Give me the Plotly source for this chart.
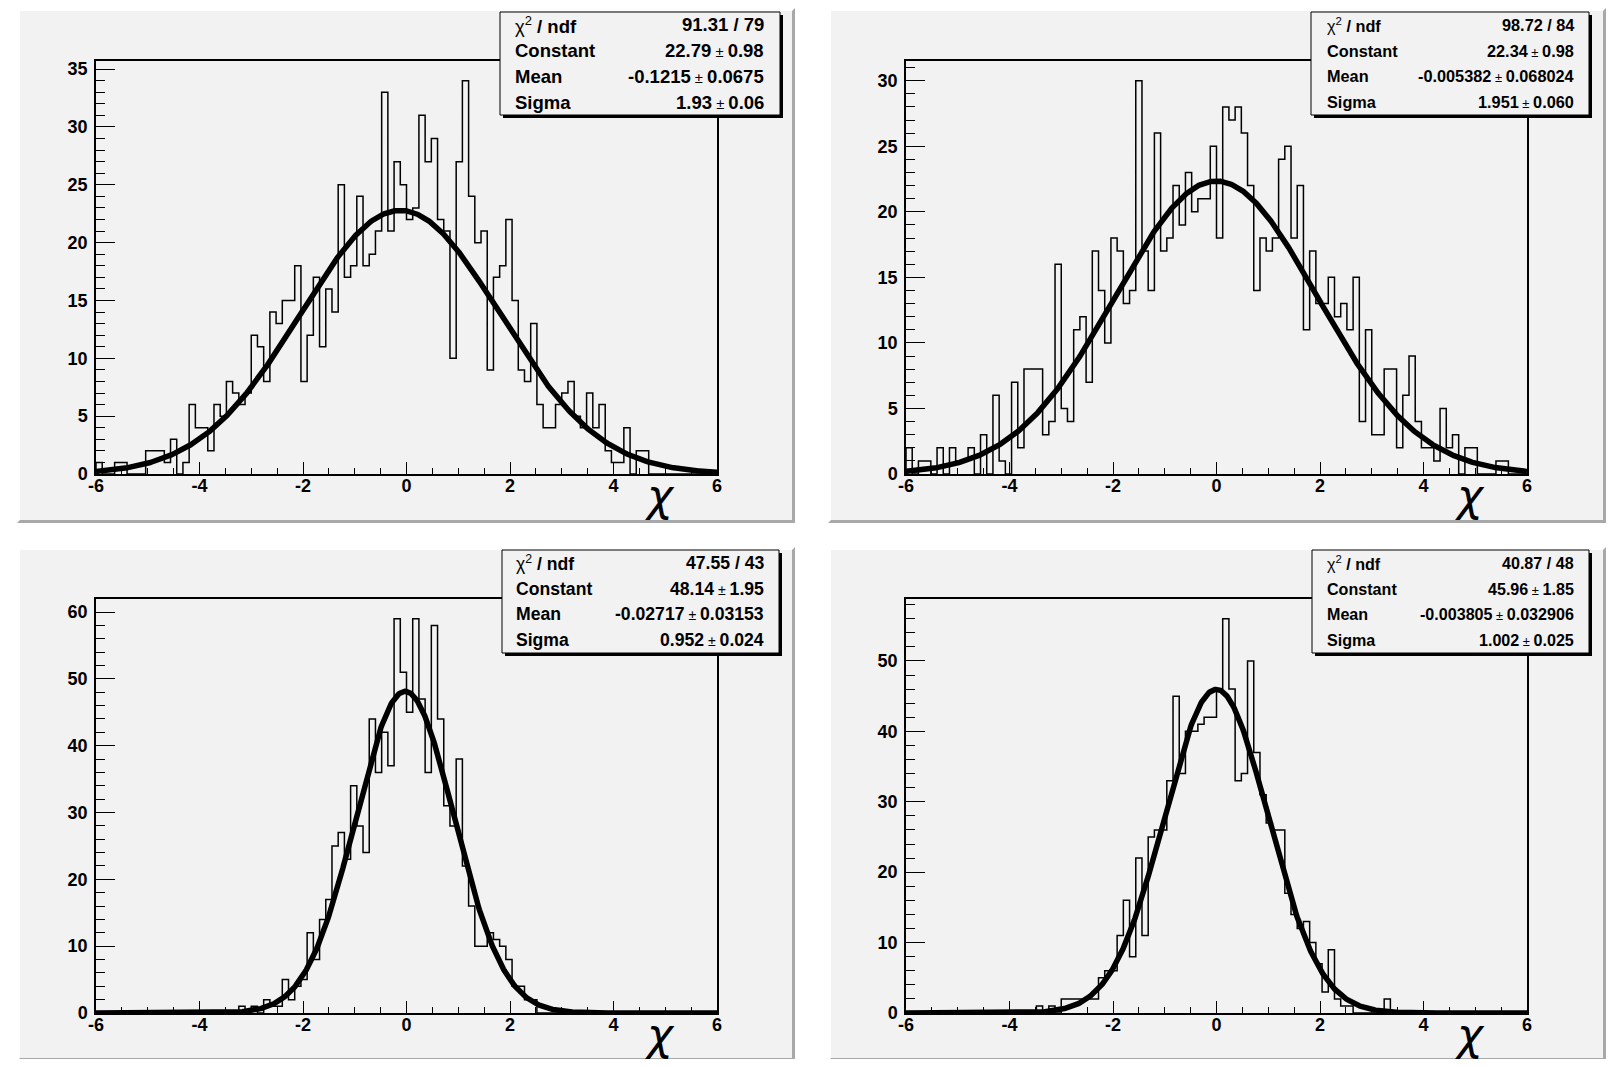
import numpy as np
import plotly.graph_objects as go

W, H = 1618, 1067
OFF = 8  # default page body margin of the html page
FW, FH = W - 2 * OFF, H - 2 * OFF

# ---------------- data ----------------
n_bins = 100
x_min, x_max = -6.0, 6.0
bin_edges = [round(x_min + (x_max - x_min) * k / n_bins, 4) for k in range(n_bins + 1)]

tl_counts = [1, 0, 0, 1, 1, 0, 0, 0, 2, 2,
             2, 1, 3, 0, 1, 6, 4, 4, 2, 6,
             5, 8, 7, 6, 7, 12, 11, 8, 14, 13,
             15, 15, 18, 8, 12, 17, 11, 16, 14, 25,
             17, 18, 24, 18, 19, 21, 33, 21, 27, 25,
             22, 23, 31, 27, 29, 22, 21, 10, 27, 34,
             24, 20, 21, 9, 17, 18, 22, 15, 9, 8,
             13, 6, 4, 4, 6, 7, 8, 5, 4, 7,
             4, 6, 2, 1, 1, 4, 0, 2, 2, 0,
             0, 0, 0, 0, 0, 0, 0, 0, 0, 0]

tr_counts = [2, 0, 1, 1, 0, 2, 0, 2, 1, 1,
             2, 0, 3, 0, 6, 1, 0, 7, 2, 8,
             8, 8, 3, 4, 16, 5, 4, 11, 12, 7,
             17, 14, 10, 18, 17, 13, 14, 30, 17, 14,
             26, 17, 18, 22, 19, 23, 20, 21, 21, 25,
             18, 28, 27, 28, 26, 22, 14, 18, 17, 18,
             24, 25, 18, 22, 11, 17, 13, 13, 15, 12,
             13, 11, 15, 4, 11, 3, 3, 8, 8, 2,
             6, 9, 4, 2, 2, 1, 5, 2, 3, 0,
             2, 2, 0, 0, 0, 1, 1, 0, 0, 0]

bl_counts = [0, 0, 0, 0, 0, 0, 0, 0, 0, 0,
             0, 0, 0, 0, 0, 0, 0, 0, 0, 0,
             0, 0, 0, 1, 0, 1, 0, 2, 1, 1,
             5, 2, 4, 5, 12, 8, 14, 17, 25, 27,
             23, 34, 28, 24, 44, 36, 42, 37, 59, 51,
             45, 59, 47, 36, 58, 44, 31, 28, 38, 22,
             16, 10, 10, 12, 11, 10, 8, 4, 4, 2,
             2, 0, 0, 0, 0, 0, 0, 0, 0, 0,
             0, 0, 0, 0, 0, 0, 0, 0, 0, 0,
             0, 0, 0, 0, 0, 0, 0, 0, 0, 0]

br_counts = [0, 0, 0, 0, 0, 0, 0, 0, 0, 0,
             0, 0, 0, 0, 0, 0, 0, 0, 0, 0,
             0, 1, 0, 1, 0, 2, 2, 2, 2, 2,
             2, 5, 6, 6, 11, 16, 8, 22, 11, 25,
             26, 26, 33, 45, 34, 40, 40, 41, 42, 42,
             46, 56, 46, 33, 34, 50, 37, 31, 27, 26,
             26, 17, 14, 12, 13, 10, 7, 3, 9, 2,
             1, 1, 0, 0, 0, 0, 0, 2, 0, 0,
             0, 0, 0, 0, 0, 0, 0, 0, 0, 0,
             0, 0, 0, 0, 0, 0, 0, 0, 0, 0]

# Gaussian fit parameters (Constant, Mean, Sigma) from the stat boxes
tl_fit = [22.79, -0.1215, 1.93]
tr_fit = [22.34, -0.005382, 1.951]
bl_fit = [48.14, -0.02717, 0.952]
br_fit = [45.96, -0.003805, 1.002]

stat_labels = ["χ<sup>2</sup> / ndf", "Constant", "Mean", "Sigma"]
tl_stats = ["91.31 / 79", "22.79 ± 0.98", "-0.1215 ± 0.0675", "1.93 ± 0.06"]
tr_stats = ["98.72 / 84", "22.34 ± 0.98", "-0.005382 ± 0.068024", "1.951 ± 0.060"]
bl_stats = ["47.55 / 43", "48.14 ± 1.95", "-0.02717 ± 0.03153", "0.952 ± 0.024"]
br_stats = ["40.87 / 48", "45.96 ± 1.85", "-0.003805 ± 0.032906", "1.002 ± 0.025"]

x_tick_vals = [-6, -4, -2, 0, 2, 4, 6]
x_tick_text = ["-6", "-4", "-2", "0", "2", "4", "6"]
axis_title = "χ"

# ---------------- layout geometry (page pixels) ----------------
PAD = "#f2f2f2"
FONT = "Liberation Sans"

def px(x):
    return (x - OFF) / FW

def py(y):
    return 1 - (y - OFF) / FH

panels = [
    dict(counts=tl_counts, fit=tl_fit, stats=tl_stats,
         pad=(17, 795, 8, 523), frame=(96, 717, 61, 474),
         box=(500, 780, 12, 115), fs=18.5, lx=513, rx=766,
         ymajor=5, yminor=1),
    dict(counts=tr_counts, fit=tr_fit, stats=tr_stats,
         pad=(828, 1606, 8, 523), frame=(906, 1527, 61, 474),
         box=(1311, 1589, 12, 115), fs=16.3, lx=1325, rx=1576,
         ymajor=5, yminor=1),
    dict(counts=bl_counts, fit=bl_fit, stats=bl_stats,
         pad=(17, 795, 547, 1061), frame=(96, 717, 599, 1013),
         box=(502, 779, 550, 653), fs=17.6, lx=514, rx=766,
         ymajor=10, yminor=2),
    dict(counts=br_counts, fit=br_fit, stats=br_stats,
         pad=(828, 1606, 547, 1061), frame=(906, 1527, 599, 1013),
         box=(1312, 1589, 550, 653), fs=16.1, lx=1325, rx=1576,
         ymajor=10, yminor=2),
]

fig = go.Figure()
shapes = []
annotations = []
layout_axes = {}

for i, p in enumerate(panels):
    sfx = "" if i == 0 else str(i + 1)
    xref, yref = "x" + sfx, "y" + sfx
    counts = p["counts"]
    ymax = 1.05 * max(counts)

    # pad background and raised border
    x0, x1, y0, y1 = p["pad"]
    shapes.append(dict(type="rect", xref="paper", yref="paper", layer="below",
                       x0=px(x0), x1=px(x1), y0=py(y1), y1=py(y0),
                       fillcolor=PAD, line=dict(width=0)))
    bw = 3
    shapes.append(dict(type="path", xref="paper", yref="paper", layer="below",
                       path=f"M {px(x0)} {py(y1)} L {px(x0)} {py(y0)} L {px(x1)} {py(y0)} "
                            f"L {px(x1-bw)} {py(y0+bw)} L {px(x0+bw)} {py(y0+bw)} L {px(x0+bw)} {py(y1-bw)} Z",
                       fillcolor="#ffffff", line=dict(width=0)))
    shapes.append(dict(type="path", xref="paper", yref="paper", layer="below",
                       path=f"M {px(x1)} {py(y0)} L {px(x1)} {py(y1)} L {px(x0)} {py(y1)} "
                            f"L {px(x0+bw)} {py(y1-bw)} L {px(x1-bw)} {py(y1-bw)} L {px(x1-bw)} {py(y0+bw)} Z",
                       fillcolor="#a8a8a8", line=dict(width=0)))

    fx0, fx1, fy0, fy1 = p["frame"]
    fw, fh = fx1 - fx0, fy1 - fy0

    # histogram step outline
    hx = [bin_edges[0]] + bin_edges + [bin_edges[-1]]
    hy = [0] + counts + [counts[-1], 0]
    fig.add_trace(go.Scatter(x=hx, y=hy, mode="lines", line_shape="hv",
                             line=dict(color="black", width=1.5),
                             xaxis=xref, yaxis=yref, showlegend=False, hoverinfo="skip"))
    # gaussian fit
    c, m, s = p["fit"]
    xf = np.linspace(x_min, x_max, 801)
    yf = c * np.exp(-0.5 * ((xf - m) / s) ** 2)
    fig.add_trace(go.Scatter(x=xf, y=yf, mode="lines",
                             line=dict(color="black", width=5.5),
                             xaxis=xref, yaxis=yref, showlegend=False, hoverinfo="skip"))

    tickfont = dict(family=FONT, size=18, color="black", weight="bold")
    layout_axes["xaxis" + sfx] = dict(
        domain=[px(fx0), px(fx1)], anchor=yref, range=[x_min, x_max],
        tickmode="array", tickvals=x_tick_vals, ticktext=x_tick_text,
        ticks="inside", ticklen=round(0.03 * fh), tickwidth=1, tickcolor="black",
        minor=dict(tick0=-6, dtick=0.5, ticks="inside", ticklen=round(0.015 * fh),
                   tickwidth=1, tickcolor="black", showgrid=False),
        showline=True, linecolor="black", linewidth=1.5, mirror=True,
        showgrid=False, zeroline=False, tickfont=tickfont, ticklabelstandoff=-5,
        automargin=False, fixedrange=True)
    yvals = list(range(0, int(ymax) + 1, p["ymajor"]))
    layout_axes["yaxis" + sfx] = dict(
        domain=[py(fy1), py(fy0)], anchor=xref, range=[0, ymax],
        tickmode="array", tickvals=yvals, ticktext=[str(v) for v in yvals],
        ticks="inside", ticklen=round(0.03 * fw), tickwidth=1, tickcolor="black",
        minor=dict(tick0=0, dtick=p["yminor"], ticks="inside", ticklen=round(0.015 * fw),
                   tickwidth=1, tickcolor="black", showgrid=False),
        showline=True, linecolor="black", linewidth=1.5, mirror=True,
        showgrid=False, zeroline=False, tickfont=tickfont, ticklabelstandoff=3,
        automargin=False, fixedrange=True)

    # axis title
    annotations.append(dict(text=f"<i>{axis_title}</i>", xref="paper", yref="paper",
                            x=px(fx0 + 0.908 * fw), y=py(fy1 + 21), xanchor="center", yanchor="middle",
                            showarrow=False,
                            font=dict(family="DejaVu Sans", size=44, color="black")))

    # stat box
    bx0, bx1, by0, by1 = p["box"]
    sh = 3
    shapes.append(dict(type="rect", xref="paper", yref="paper", layer="above",
                       x0=px(bx0 + sh), x1=px(bx1 + sh), y0=py(by1 + sh), y1=py(by0 + sh),
                       fillcolor="black", line=dict(width=0)))
    shapes.append(dict(type="rect", xref="paper", yref="paper", layer="above",
                       x0=px(bx0), x1=px(bx1), y0=py(by1), y1=py(by0),
                       fillcolor=PAD, line=dict(color="black", width=1)))
    rh = (by1 - by0) / 4
    for j in range(4):
        yc = by0 + (j + 0.5) * rh
        if j == 0:
            lab_html = "χ<sup>2</sup><b> / ndf</b>"
        else:
            lab_html = f"<b>{stat_labels[j]}</b>"
        val = p["stats"][j]
        if "±" in val:
            a, b = [t.strip() for t in val.split("±")]
            val_html = f"<b>{a}</b><span style='font-size:{p['fs']*0.8:.1f}px'> ± </span><b>{b}</b>"
        else:
            val_html = f"<b>{val}</b>"
        annotations.append(dict(text=lab_html, xref="paper", yref="paper",
                                x=px(p["lx"]), y=py(yc), xanchor="left", yanchor="middle",
                                showarrow=False,
                                font=dict(family=FONT, size=p["fs"], color="black")))
        annotations.append(dict(text=val_html, xref="paper", yref="paper",
                                x=px(p["rx"]), y=py(yc), xanchor="right", yanchor="middle",
                                showarrow=False,
                                font=dict(family=FONT, size=p["fs"], color="black")))

fig.update_layout(
    template="none",
    width=FW, height=FH,
    autosize=False,
    margin=dict(l=0, r=0, t=0, b=0, pad=0),
    paper_bgcolor="#ffffff",
    plot_bgcolor=PAD,
    shapes=shapes,
    annotations=annotations,
    showlegend=False,
    font=dict(family=FONT, color="black"),
    **layout_axes,
)

fig.write_html("out.html")
